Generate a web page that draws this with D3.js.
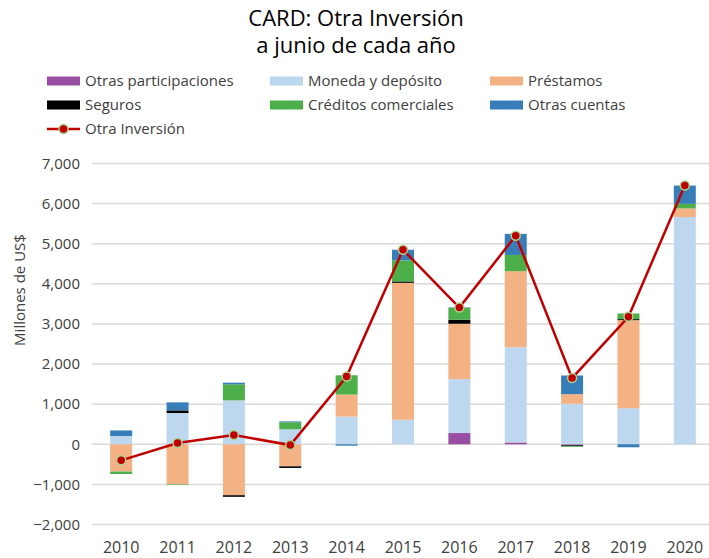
<!DOCTYPE html>
<html><head><meta charset="utf-8">
<script src="https://cdn.jsdelivr.net/npm/d3@7"></script>
<style>body{margin:0;background:#fff}svg{display:block}text{font-family:"Open Sans",sans-serif}</style>
</head><body><svg id="c" width="709" height="558"></svg>
<script>
const years = ["2010","2011","2012","2013","2014","2015","2016","2017","2018","2019","2020"];
const seriesNames = ["Otras participaciones","Moneda y depósito","Préstamos","Seguros","Créditos comerciales","Otras cuentas"];
const seriesColors = ["#984EA3","#BDD7EE","#F4B183","#000000","#4DAF4A","#377EB8"];
const otrasParticipaciones = [0, 0, 0, 0, 0, 0, 280, 45, -25, 0, 0];
const monedaDeposito = [205, 780, 1095, 375, 690, 610, 1345, 2375, 1010, 900, 5665];
const prestamos = [-680, -1000, -1270, -550, 550, 3415, 1380, 1895, 240, 2195, 215];
const seguros = [0, 65, -40, -40, 0, 35, 100, 0, -20, 25, 0];
const creditosComerciales = [-60, -15, 400, 175, 480, 525, 300, 405, -20, 140, 115];
const otrasCuentas = [140, 200, 40, 20, -35, 265, 10, 525, 465, -75, 455];
const otraInversion = [-400, 30, 230, -20, 1690, 4850, 3410, 5200, 1650, 3180, 6450];
const yTicks = [-2000,-1000,0,1000,2000,3000,4000,5000,6000,7000];

const svg = d3.select("#c");
const seriesData = [otrasParticipaciones, monedaDeposito, prestamos, seguros, creditosComerciales, otrasCuentas];
const table = years.map((y,i)=>{const o={year:y}; seriesNames.forEach((n,k)=>o[n]=seriesData[k][i]); return o;});

const x = d3.scaleBand().domain(years).range([93, 713]).paddingInner(0.61).paddingOuter(0.305);
const y = d3.scaleLinear().domain([-2000,7000]).range([524.5,163.5]);

// grid
svg.append("g").selectAll("line").data(yTicks).join("line")
  .attr("x1",92).attr("x2",709).attr("y1",d=>y(d)).attr("y2",d=>y(d))
  .attr("stroke","#D9D9D9").attr("stroke-width",1.5);

// y tick labels
svg.append("g").selectAll("text").data(yTicks).join("text")
  .attr("x",80).attr("y",d=>y(d)).attr("dy","0.35em").attr("text-anchor","end")
  .attr("font-size",15).attr("fill","#404040").text(d=>d3.format(",")(d));

// x labels
svg.append("g").selectAll("text").data(years).join("text")
  .attr("x",d=>x(d)+x.bandwidth()/2).attr("y",553).attr("text-anchor","middle")
  .attr("font-size",16).attr("fill","#404040").text(d=>d);

// y title
svg.append("text").attr("transform","translate(25,290) rotate(-90)").attr("text-anchor","middle")
  .attr("font-size",15).attr("fill","#404040").text("Millones de US$");

// stacks
const stack = d3.stack().keys(seriesNames).offset(d3.stackOffsetDiverging);
const stacked = stack(table);
svg.append("g").selectAll("g").data(stacked).join("g").attr("fill",(d,i)=>seriesColors[i])
  .selectAll("rect").data(d=>d).join("rect")
  .attr("x",d=>x(d.data.year)).attr("width",x.bandwidth())
  .attr("y",d=>y(Math.max(d[0],d[1]))).attr("height",d=>Math.abs(y(d[0])-y(d[1])));

// line
const line = d3.line().x((d,i)=>x(years[i])+x.bandwidth()/2).y(d=>y(d));
svg.append("path").datum(otraInversion).attr("d",line).attr("fill","none")
  .attr("stroke","#C00000").attr("stroke-width",2.5);
svg.append("g").selectAll("circle").data(otraInversion).join("circle")
  .attr("cx",(d,i)=>x(years[i])+x.bandwidth()/2).attr("cy",d=>y(d)).attr("r",4.5)
  .attr("fill","#C00000").attr("stroke","#A9D18E").attr("stroke-width",1.5);

// title
svg.append("text").attr("x",356).attr("y",26).attr("text-anchor","middle").attr("font-size",22).attr("fill","#000").text("CARD: Otra Inversión");
svg.append("text").attr("x",356).attr("y",53).attr("text-anchor","middle").attr("font-size",22).attr("fill","#000").text("a junio de cada año");

// legend
const legendPos = [[47,81],[270,81],[490,81],[47,105],[270,105],[490,105]];
const lg = svg.append("g");
seriesNames.forEach((n,i)=>{
  const [lx,ly]=legendPos[i];
  lg.append("rect").attr("x",lx).attr("y",ly-4.5).attr("width",33).attr("height",9).attr("fill",seriesColors[i]);
  lg.append("text").attr("x",lx+38).attr("y",ly).attr("dy","0.35em").attr("font-size",15).attr("fill","#404040").text(n);
});
lg.append("line").attr("x1",47).attr("x2",80).attr("y1",129).attr("y2",129).attr("stroke","#C00000").attr("stroke-width",2.5);
lg.append("circle").attr("cx",63.5).attr("cy",129).attr("r",4.5).attr("fill","#C00000").attr("stroke","#A9D18E").attr("stroke-width",1.5);
lg.append("text").attr("x",85).attr("y",129).attr("dy","0.35em").attr("font-size",15).attr("fill","#404040").text("Otra Inversión");
</script></body></html>
